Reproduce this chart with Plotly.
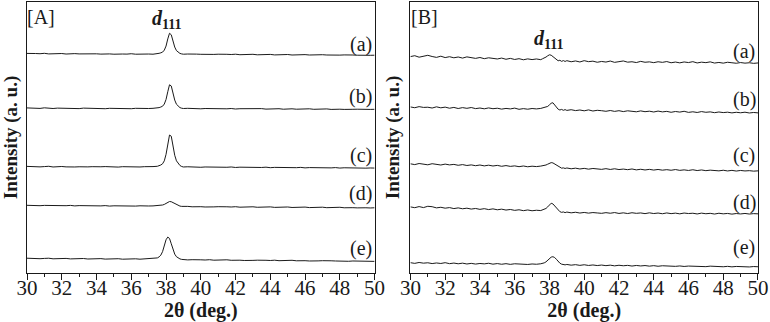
import plotly.graph_objects as go
from plotly.subplots import make_subplots

# shared 2-theta grid (deg.): coarse away from the peak, fine across d111
two_theta = [
    30.0, 30.25, 30.5, 30.75, 31.0, 31.25, 31.5, 31.75, 32.0, 32.25,
    32.5, 32.75, 33.0, 33.25, 33.5, 33.75, 34.0, 34.25, 34.5, 34.75,
    35.0, 35.25, 35.5, 35.75, 36.0, 36.25, 36.5, 36.75, 37.0, 37.25, 37.5,
    37.6, 37.7, 37.8, 37.9, 38.0, 38.1, 38.2, 38.3, 38.4, 38.5, 38.6, 38.7, 38.8, 38.9,
    39.0, 39.25, 39.5, 39.75, 40.0, 40.25, 40.5, 40.75, 41.0, 41.25,
    41.5, 41.75, 42.0, 42.25, 42.5, 42.75, 43.0, 43.25, 43.5, 43.75,
    44.0, 44.25, 44.5, 44.75, 45.0, 45.25, 45.5, 45.75, 46.0, 46.25,
    46.5, 46.75, 47.0, 47.25, 47.5, 47.75, 48.0, 48.25, 48.5, 48.75,
    49.0, 49.25, 49.5, 49.75, 50.0,
]

# panel [A] intensities (a. u., offset-stacked)
A_a = [
    221.2, 220.8, 221.1, 220.9, 221.3, 220.7, 221.0, 220.8, 221.1, 220.6,
    220.9, 221.0, 220.7, 220.9, 220.6, 221.0, 220.8, 220.5, 220.9, 220.7,
    220.4, 220.8, 220.6, 220.5, 220.9, 220.4, 220.7, 220.5, 220.6, 220.4, 220.7,
    221.3, 221.8, 222.5, 224.5, 228.6, 235.8, 241.5, 240.0, 233.5, 227.6, 224.0, 222.3, 221.2, 220.7,
    220.4, 220.6, 220.2, 220.5, 220.3, 220.1, 220.5, 220.2, 220.4, 220.0,
    220.3, 220.1, 220.4, 219.9, 220.2, 220.0, 220.3, 219.8, 220.1, 219.9,
    220.2, 219.7, 220.0, 219.8, 220.1, 219.6, 219.9, 219.7, 220.0, 219.6,
    219.8, 219.5, 219.9, 219.6, 219.4, 219.8, 219.5, 219.7, 219.3, 219.6,
    219.4, 219.2, 219.5, 219.3, 219.4,
]
A_b = [
    166.3, 165.9, 166.2, 165.8, 166.4, 166.0, 165.7, 166.1, 165.9, 166.2,
    165.8, 166.0, 165.6, 166.1, 165.9, 165.7, 166.0, 165.8, 165.5, 165.9,
    165.7, 166.0, 165.6, 165.8, 165.5, 165.9, 165.6, 165.8, 165.7, 165.9, 166.1,
    166.6, 167.2, 168.0, 170.2, 174.8, 182.6, 189.6, 188.4, 181.0, 174.2, 170.0, 167.8, 166.6, 166.0,
    165.7, 165.9, 165.5, 165.8, 165.4, 165.7, 165.5, 165.8, 165.3, 165.6,
    165.4, 165.7, 165.2, 165.5, 165.6, 165.2, 165.5, 165.3, 165.6, 165.1,
    165.4, 165.2, 165.5, 165.0, 165.3, 165.4, 165.0, 165.3, 165.1, 165.4,
    164.9, 165.2, 165.0, 165.3, 164.8, 165.1, 165.0, 164.8, 165.2, 164.9,
    165.0, 164.7, 165.0, 164.8, 164.9,
]
A_c = [
    107.4, 107.0, 107.3, 106.9, 107.2, 107.5, 106.8, 107.1, 107.3, 106.9,
    107.2, 106.8, 107.0, 107.3, 106.9, 107.1, 106.7, 107.0, 107.2, 106.8,
    107.0, 106.7, 107.1, 106.9, 106.6, 107.0, 106.8, 107.1, 106.9, 107.2, 107.5,
    108.0, 108.8, 110.0, 113.0, 119.5, 130.0, 139.0, 137.8, 128.0, 118.6, 113.0, 110.0, 108.3, 107.3,
    106.8, 107.0, 106.6, 106.9, 106.5, 106.8, 106.6, 106.9, 106.4, 106.7,
    106.5, 106.8, 106.3, 106.6, 106.4, 106.7, 106.2, 106.5, 106.3, 106.6,
    106.1, 106.4, 106.2, 106.5, 106.0, 106.3, 106.1, 106.4, 105.9, 106.2,
    106.0, 106.3, 105.8, 106.1, 105.9, 106.2, 105.7, 106.0, 105.8, 106.1,
    105.7, 105.9, 105.6, 105.8, 105.7,
]
A_d = [
    68.2, 67.9, 68.3, 67.8, 68.1, 67.9, 68.2, 67.7, 68.0, 67.8,
    68.1, 67.6, 67.9, 67.7, 68.0, 67.5, 67.8, 67.6, 67.9, 67.4,
    67.7, 67.5, 67.8, 67.3, 67.6, 67.4, 67.7, 67.3, 67.5, 67.6, 67.8,
    68.0, 68.2, 68.5, 69.1, 70.0, 71.2, 72.0, 71.8, 70.8, 69.6, 68.6, 67.9, 67.4, 67.1,
    66.9, 67.1, 66.7, 67.0, 66.8, 66.5, 66.9, 66.6, 66.8, 66.4,
    66.7, 66.5, 66.8, 66.3, 66.6, 66.4, 66.7, 66.2, 66.5, 66.3,
    66.6, 66.1, 66.4, 66.2, 66.5, 66.0, 66.3, 66.1, 66.4, 65.9,
    66.2, 66.0, 66.3, 65.8, 66.1, 65.9, 66.2, 65.7, 66.0, 65.8,
    65.6, 65.9, 65.7, 65.5, 65.7,
]
A_e = [
    14.9, 14.5, 14.8, 14.4, 14.7, 14.9, 14.3, 14.6, 14.4, 14.7,
    14.2, 14.5, 14.3, 14.6, 14.1, 14.4, 14.2, 14.5, 14.0, 14.3,
    14.1, 14.4, 13.9, 14.2, 14.0, 14.3, 13.9, 14.1, 14.3, 14.6, 15.2,
    16.2, 18.0, 21.5, 27.0, 33.5, 36.2, 34.8, 29.5, 23.5, 19.0, 16.4, 15.0, 14.2, 13.7,
    13.5, 13.2, 13.4, 13.0, 13.3, 13.1, 13.4, 12.9, 13.2, 13.0,
    13.3, 12.8, 13.1, 12.9, 12.6, 13.0, 12.7, 12.9, 12.5, 12.8,
    12.6, 12.9, 12.4, 12.7, 12.5, 12.8, 12.3, 12.6, 12.4, 12.1,
    12.5, 12.2, 12.4, 12.0, 12.3, 12.1, 11.9, 12.2, 11.8, 12.1,
    11.9, 11.6, 11.9, 11.5, 11.7,
]

# panel [B] intensities (a. u., offset-stacked)
B_a = [
    218.0, 218.9, 217.4, 218.6, 219.3, 218.1, 217.2, 218.4, 217.0, 217.9,
    216.8, 217.6, 216.5, 217.7, 216.9, 216.2, 217.1, 215.9, 216.8, 216.1,
    215.6, 216.5, 215.3, 216.2, 215.1, 215.9, 214.8, 215.7, 215.0, 215.6, 214.9,
    215.8, 216.4, 217.5, 218.8, 219.8, 219.4, 218.0, 216.2, 214.6, 213.8, 214.3, 213.2, 214.0, 213.1,
    213.9, 212.8, 213.6, 212.6, 213.9, 212.9, 213.4, 212.3, 213.1, 212.5,
    213.5, 212.2, 212.9, 213.6, 212.4, 212.8, 212.0, 213.2, 212.3, 212.7,
    211.9, 212.8, 212.2, 213.0, 211.8, 212.5, 211.7, 212.6, 212.0, 212.9,
    211.6, 212.4, 211.9, 212.7, 211.5, 212.1, 211.4, 212.3, 211.8, 211.3,
    212.0, 211.4, 211.8, 211.2, 211.6,
]
B_b = [
    167.3, 166.5, 167.6, 166.8, 167.0, 166.2, 167.4, 166.4, 167.1, 166.0,
    166.8, 165.7, 166.6, 165.9, 166.7, 165.6, 166.2, 165.4, 166.3, 165.5,
    166.0, 165.1, 165.8, 165.3, 166.1, 164.9, 165.6, 165.0, 165.7, 165.3, 165.8,
    166.2, 166.6, 167.0, 167.8, 169.4, 171.0, 171.5, 169.2, 166.4, 165.0, 164.2, 164.8, 163.9, 164.6,
    163.8, 164.5, 163.6, 164.2, 163.4, 164.3, 163.2, 163.9, 163.5, 162.9,
    163.7, 162.8, 163.5, 162.6, 163.4, 162.9, 162.4, 163.3, 162.5, 163.0,
    162.2, 163.1, 162.3, 162.8, 161.9, 162.7, 162.1, 162.9, 161.8, 162.4,
    161.7, 162.6, 161.9, 162.3, 161.5, 162.2, 161.6, 162.0, 161.3, 161.9,
    161.4, 162.0, 161.2, 161.7, 161.3,
]
B_c = [
    110.0, 109.2, 110.3, 109.5, 109.0, 110.1, 109.3, 108.8, 109.7, 108.9,
    109.4, 108.5, 109.2, 108.3, 108.9, 108.1, 108.8, 107.9, 108.6, 107.8,
    108.4, 107.5, 108.2, 107.4, 107.9, 107.1, 107.8, 107.0, 107.6, 107.2, 107.7,
    107.9, 108.3, 108.8, 109.6, 110.5, 111.2, 110.9, 109.8, 108.2, 106.9, 106.1, 105.6, 105.9, 105.3,
    105.8, 105.0, 105.6, 104.8, 105.4, 104.6, 105.3, 104.9, 104.4, 105.1,
    104.3, 105.0, 104.2, 104.7, 104.1, 104.8, 103.9, 104.5, 103.8, 104.4,
    103.7, 104.3, 103.6, 104.1, 103.5, 104.2, 103.4, 103.9, 103.3, 104.0,
    103.2, 103.8, 103.1, 103.6, 103.3, 102.9, 103.5, 102.8, 103.4, 102.7,
    103.3, 102.8, 103.1, 102.6, 102.9,
]
B_d = [
    66.6, 65.8, 66.9, 65.9, 67.2, 66.8, 65.6, 66.2, 65.3, 65.9,
    64.9, 65.6, 64.7, 65.3, 64.4, 65.0, 64.1, 64.8, 63.9, 64.6,
    63.7, 64.3, 63.4, 64.0, 63.1, 63.7, 62.8, 63.5, 62.7, 63.2, 62.9,
    63.4, 64.0, 65.0, 66.6, 68.8, 70.3, 69.6, 67.5, 64.8, 62.9, 61.8, 61.1, 61.5, 60.8,
    61.4, 60.6, 61.2, 60.4, 61.0, 60.3, 60.9, 60.5, 60.1, 60.8,
    60.2, 60.9, 60.0, 60.6, 59.9, 60.7, 60.1, 60.5, 59.8, 60.6,
    59.9, 60.4, 59.7, 60.5, 59.8, 60.3, 59.6, 60.4, 59.9, 60.2,
    59.5, 60.3, 59.7, 60.1, 59.4, 60.2, 59.6, 60.0, 59.3, 59.9,
    59.5, 60.0, 59.4, 59.8, 59.6,
]
B_e = [
    10.4, 9.7, 10.6, 9.9, 10.3, 9.5, 10.1, 9.6, 10.4, 9.4,
    10.0, 9.3, 9.9, 9.1, 9.7, 9.0, 9.6, 9.2, 9.8, 8.9,
    9.5, 8.8, 9.4, 8.7, 9.3, 8.9, 9.2, 8.6, 9.1, 8.8, 9.3,
    9.6, 10.2, 11.2, 12.8, 14.6, 16.0, 16.4, 15.6, 13.8, 11.6, 9.9, 8.9, 8.4, 8.2,
    8.6, 7.9, 8.4, 7.7, 8.3, 7.6, 8.1, 7.5, 8.0, 7.4,
    7.9, 7.2, 7.8, 7.3, 7.7, 7.0, 7.6, 7.1, 7.5, 6.9,
    7.4, 6.8, 7.3, 6.9, 7.2, 6.7, 7.1, 6.6, 7.0, 6.8,
    6.5, 7.0, 6.4, 6.9, 6.5, 6.8, 6.3, 6.7, 6.2, 6.6,
    6.3, 6.6, 6.1, 6.5, 6.3,
]

sample_labels = ["(a)", "(b)", "(c)", "(d)", "(e)"]
label_y_A = [230, 178, 118, 80, 25]
label_y_B = [223, 175, 118, 71, 26]

FONT = "Liberation Serif, Times New Roman, serif"
INK = "#1a1a1a"

fig = make_subplots(rows=1, cols=2, horizontal_spacing=0.049)

for col, series in ((1, [A_a, A_b, A_c, A_d, A_e]), (2, [B_a, B_b, B_c, B_d, B_e])):
    for name, ys in zip(sample_labels, series):
        fig.add_trace(go.Scatter(
            x=two_theta, y=ys,
            mode="lines",
            name=name,
            line=dict(color=INK, width=1),
            showlegend=False,
            hovertemplate="2θ=%{x:.2f}<br>I=%{y:.1f}<extra></extra>"
        ), row=1, col=col)

# sample labels, panel tags and the d111 reflection marker
for col, ys in ((1, label_y_A), (2, label_y_B)):
    xref = "x" if col == 1 else "x2"
    yref = "y" if col == 1 else "y2"
    for name, y in zip(sample_labels, ys):
        fig.add_annotation(x=49.2, y=y, xref=xref, yref=yref, text=name,
                           showarrow=False, font=dict(family=FONT, size=20, color=INK))
    fig.add_annotation(x=30.8, y=258, xref=xref, yref=yref,
                       text="[A]" if col == 1 else "[B]",
                       showarrow=False, font=dict(family=FONT, size=20, color=INK))

fig.add_annotation(x=38.0, y=255, xref="x", yref="y",
                   text="<b><i>d</i><sub>111</sub></b>",
                   showarrow=False, font=dict(family=FONT, size=20, color=INK))
fig.add_annotation(x=37.97, y=235, xref="x2", yref="y2",
                   text="<b><i>d</i><sub>111</sub></b>",
                   showarrow=False, font=dict(family=FONT, size=20, color=INK))

axis_x = dict(
    range=[30, 50], dtick=2, tick0=30,
    ticks="outside", ticklen=6, tickwidth=1, tickcolor=INK,
    minor=dict(dtick=1, ticks="outside", ticklen=3, tickwidth=1, tickcolor=INK),
    showline=True, linecolor=INK, linewidth=1, mirror=True,
    showgrid=False, zeroline=False,
    ticklabeloverflow="allow",
    ticklabelstandoff=-10,
    tickfont=dict(family=FONT, size=21, color=INK),
    title=dict(text="<b>2θ (deg.)</b>", standoff=0,
               font=dict(family=FONT, size=20, color=INK)),
)
axis_y = dict(
    range=[0, 273], showticklabels=False, ticks="",
    showline=True, linecolor=INK, linewidth=1, mirror=True,
    showgrid=False, zeroline=False,
    title=dict(text="<b>Intensity (a. u.)</b>", standoff=4,
               font=dict(family=FONT, size=19, color=INK)),
)

fig.update_xaxes(**axis_x)
fig.update_yaxes(**axis_y)

fig.update_layout(
    width=770, height=322,
    margin=dict(l=27, r=9, t=1, b=49),
    plot_bgcolor="white",
    paper_bgcolor="white",
    font=dict(family=FONT, color=INK),
)

# drop the default page margin so the 770x322 figure fills the window
fig.write_html("out.html", config={"displayModeBar": False},
               post_script="document.body.style.margin='0';")
